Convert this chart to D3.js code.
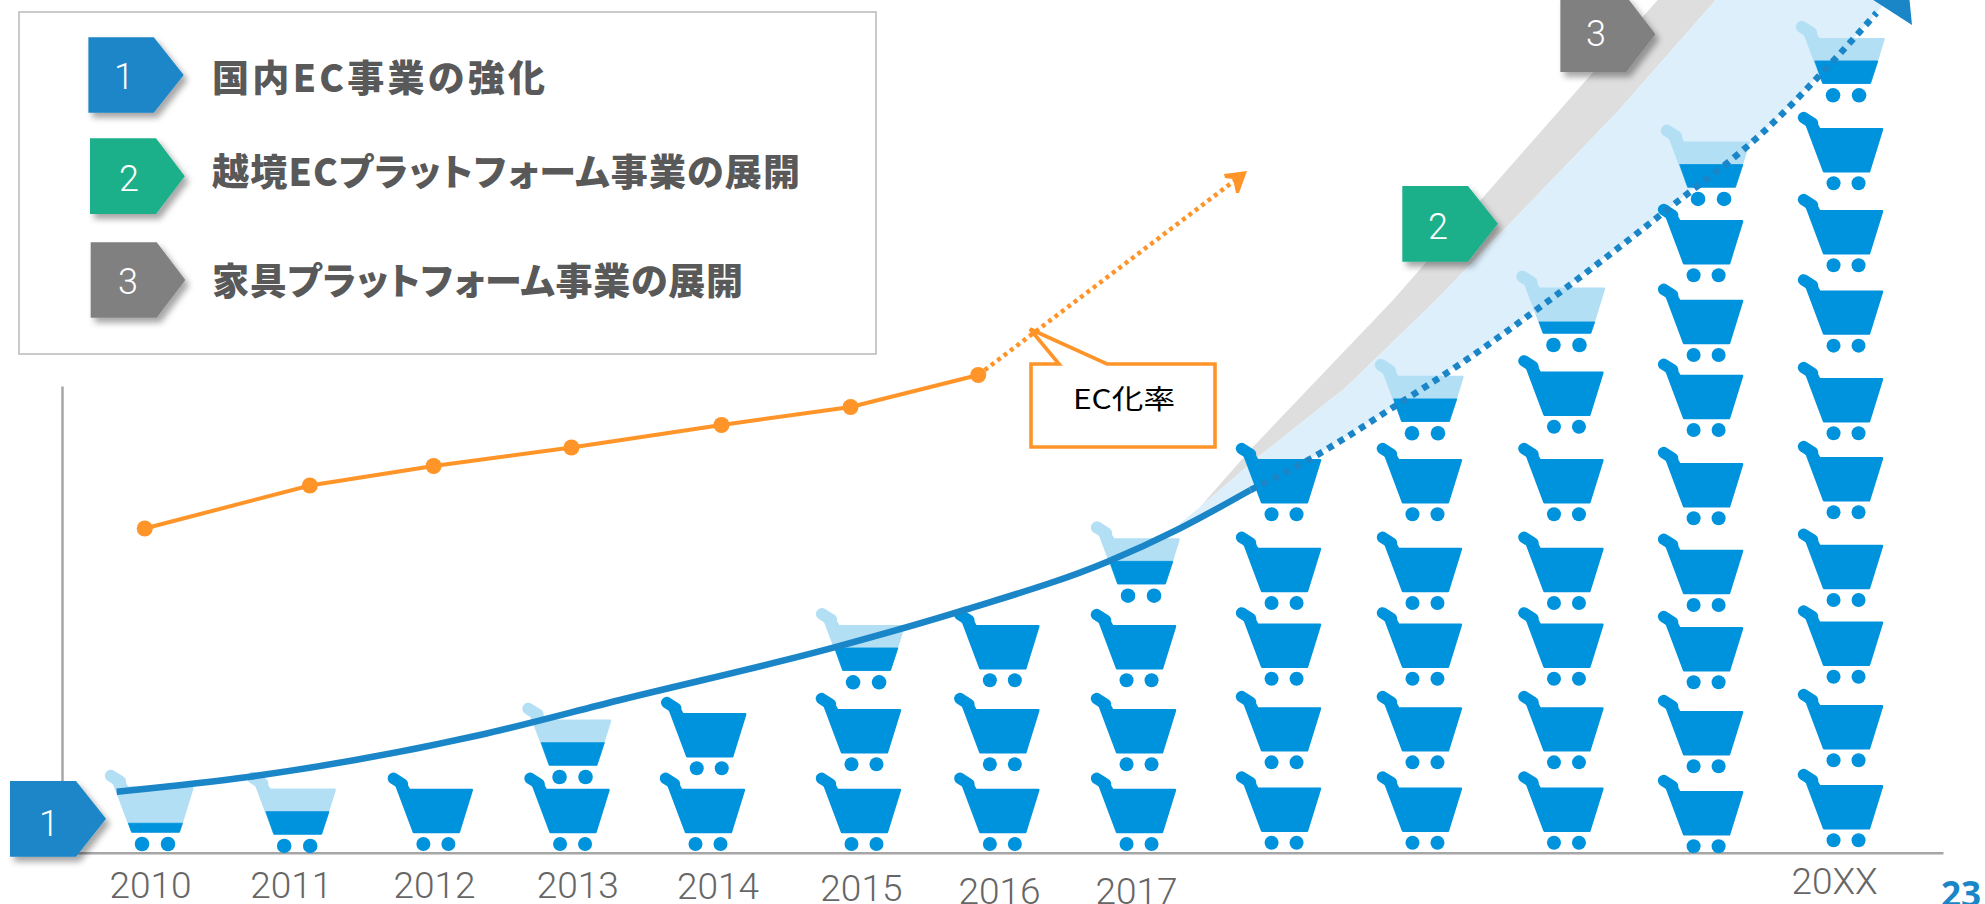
<!DOCTYPE html>
<html lang="ja">
<head>
<meta charset="utf-8">
<script src="https://cdn.jsdelivr.net/npm/d3@7"></script>
<style>
html,body{margin:0;padding:0;background:#fff;overflow:hidden}
svg{display:block}
.jp{font-family:"Noto Sans CJK JP","Noto Sans",sans-serif;font-feature-settings:"palt"}
.thin{font-family:Roboto,"Open Sans",sans-serif;font-weight:300}
</style>
</head>
<body>
<svg id="chart" width="1985" height="904"></svg>
<script>
// ---- data ----
const yearLabels = ["2010","2011","2012","2013","2014","2015","2016","2017","20XX"];
const yearLabelPos = [-0.035,0.963,1.98,2.997,3.992,5.009,5.989,6.962,11.915];
const columnPos = [0,1.009,1.993,2.963,3.924,5.031,6.013,6.983,8.012,9.012,10.016,11.007,12];
const topCartPos = [0,1.009,1.993,2.963,3.933,5.046,6.013,6.997,8.012,9.012,10.016,11.042,12];
const topCartFill = [0.2,0.5,1,0.5,1,0.5,1,0.5,1,0.5,0.25,0.5,0.5];
const cartLevels = [
  [0],
  [-0.024],
  [0],
  [0,0.817],
  [0,0.923],
  [0,0.972,1.972],
  [0,0.972,1.996],
  [0,0.972,1.996,3.028],
  [0.016,0.996,2.016,2.939,4.021],
  [0.016,0.996,2.016,2.939,4.021,5.009],
  [0.016,0.996,2.016,2.939,4.021,5.089,6.085],
  [-0.028,0.948,1.972,2.915,3.972,5.049,5.963,6.935,7.866],
  [0.045,1.021,2.04,2.976,4.045,5.009,6.077,7.057,8.057,9.13]
];
const growthSolid = [[-0.272,0.638],[0.674,0.821],[2.306,1.329],[3.3,1.756],[4.84,2.406],[5.746,2.854],[6.759,3.443],[7.274,3.85],[7.774,4.317]];
const growthDotted = [[7.774,4.317],[8.225,4.723],[8.793,5.333],[9.304,5.902],[9.878,6.61],[10.758,7.772],[11.39,8.646],[11.915,9.561],[12.216,10.134]];
const growthArrow = [[12.192,10.293],[12.468,9.988],[12.447,10.354]];
const wedgeBlueTop = [[7.217,3.829],[7.416,4.11],[7.818,4.707],[8.445,5.561],[9.091,6.634],[10.378,8.93],[11.075,10.293],[11.176,10.537]];
const wedgeGreyTop = [[7.416,4.11],[7.771,4.805],[8.786,6.634],[9.428,7.894],[10.188,9.378],[10.664,10.293],[10.786,10.537]];
const ecRatePos = [-0.073,1.099,1.977,2.955,4.02,4.936,5.842];
const ecRate = [3.43,4.29,4.68,5.05,5.5,5.86,6.5];
const ecRateForecast = [[5.842,6.5],[7.749,10.58]];
const legendNames = ["国内EC事業の強化","越境ECプラットフォーム事業の展開","家具プラットフォーム事業の展開"];
const badgeColors = ["#1a86c8","#1eb08a","#808080"];

// ---- scales ----
const svg = d3.select("#chart");
const x = d3.scaleLinear().domain([-0.66,12.688]).range([62,1943]);
const y = d3.scaleLinear().domain([-0.106,5.585]).range([852.7,386]);
const yRate = d3.scaleLinear().domain([0,14]).range([700,0]);
const pt = d => [x(d[0]),y(d[1])];

const defs = svg.append("defs");
const shadow = defs.append("filter").attr("id","sh").attr("x","-20%").attr("y","-20%").attr("width","150%").attr("height","150%");
shadow.append("feDropShadow").attr("dx",4).attr("dy",5).attr("stdDeviation",3).attr("flood-color","#000").attr("flood-opacity",0.35);

// ---- wedges ----
const lin = d3.line();
const curveGen = d3.line().curve(d3.curveMonotoneX);
const wedgeLower = growthSolid.filter(d=>d[0]>7.2).concat(growthDotted.slice(1)).concat([[12.6,10.9]]);
svg.append("path").attr("fill","#dedede")
   .attr("d",lin(wedgeGreyTop.concat(wedgeBlueTop.slice(1).reverse()).map(pt)));
svg.append("path").attr("fill","#ddeffb")
   .attr("d",lin(wedgeBlueTop.concat(wedgeLower.slice().reverse()).map(pt)));

// ---- axes ----
const axisX = d3.axisBottom(x).tickValues(yearLabelPos).tickSize(0)
  .tickFormat((d,i)=>yearLabels[i]);
const gx = svg.append("g").attr("transform",`translate(0,${y(-0.106)})`).call(axisX);
gx.select(".domain").attr("stroke","#a6a6a6").attr("stroke-width",2.5);
const labelBaselineDrop = [45.3,45.3,45.3,45.6,46.3,48.3,51.3,51.3,41.6];
gx.selectAll("text").attr("class","thin").attr("font-size",37).attr("fill","#666")
  .attr("dy",0).attr("y",(d,i)=>labelBaselineDrop[i]);
const gy = svg.append("g").attr("transform",`translate(${x(-0.66)},0)`)
  .call(d3.axisLeft(y).tickValues([]).tickSize(0));
gy.select(".domain").attr("stroke","#a6a6a6").attr("stroke-width",2.5);

// ---- carts ----
const DARK="#0093dd", LIGHT="#b3dff5";
const bodyPath = "M-22,-12 L-40,-60 L-31,-62 L-26.5,-54 L36,-54 L23,-12 Z";
function cart(g,cx,wy,fill){
  const s = fill<1 ? 1.04 : 1;
  const c = g.append("g").attr("transform",`translate(${cx},${wy}) scale(${s})`);
  const col = fill<1 ? LIGHT : DARK;
  c.append("path").attr("d",bodyPath).attr("fill",col).attr("stroke",col).attr("stroke-width",2.4).attr("stroke-linejoin","round");
  c.append("line").attr("x1",-42.5).attr("y1",-65.7).attr("x2",-33.5).attr("y2",-60).attr("stroke",col).attr("stroke-width",11.5).attr("stroke-linecap","round");
  if(fill<1){
    const h = fill*43.4;
    const t = -11.3-h;
    const lx = -22.6-h*0.346, rx = 23.6+h*0.322;
    c.append("path").attr("fill",DARK).attr("stroke",DARK).attr("stroke-width",0.8).attr("stroke-linejoin","round")
     .attr("d",`M${lx},${t} L${rx},${t} L23.4,-11.3 L-22.4,-11.3 Z`);
  }
  [-12.5,12.5].forEach(w=>c.append("circle").attr("cx",w).attr("cy",0).attr("r",7).attr("fill",DARK));
}
const gc = svg.append("g");
cartLevels.forEach((col,i)=>{
  col.forEach((lv,j)=>{
    const top = j===col.length-1;
    cart(gc, x(top?topCartPos[i]:columnPos[i]), y(lv), top?topCartFill[i]:1);
  });
});

// ---- growth curve ----
svg.append("path").attr("fill","none").attr("stroke","#1a86c8").attr("stroke-width",6.5)
   .attr("d",curveGen(growthSolid.map(pt)));
svg.append("path").attr("fill","none").attr("stroke","#1a86c8").attr("stroke-width",6.5).attr("stroke-dasharray","6.5 6")
   .attr("d",curveGen(growthDotted.map(pt)));
svg.append("path").attr("fill","#1a86c8").attr("d",lin(growthArrow.map(pt))+"Z");

// ---- EC rate line ----
const ecPts = ecRatePos.map((p,i)=>[x(p),yRate(ecRate[i])]);
const fcPts = ecRateForecast.map(d=>[x(d[0]),yRate(d[1])]);
svg.append("path").attr("fill","none").attr("stroke","#ff9428").attr("stroke-width",4.5).attr("stroke-dasharray","4 4")
   .attr("d",lin([fcPts[0],[fcPts[1][0]-5,fcPts[1][1]+4]]));
const tip = fcPts[1];
svg.append("path").attr("fill","#ff9428")
   .attr("d",`M${tip[0]},${tip[1]} L${tip[0]-23},${tip[1]+3} L${tip[0]-22},${tip[1]+7} L${tip[0]-14},${tip[1]+8} L${tip[0]-11},${tip[1]+22} L${tip[0]-8},${tip[1]+22} Z`);
svg.append("path").attr("fill","none").attr("stroke","#ff9428").attr("stroke-width",4).attr("d",lin(ecPts));
svg.append("g").selectAll("circle").data(ecPts).join("circle")
   .attr("cx",d=>d[0]).attr("cy",d=>d[1]).attr("r",8).attr("fill","#ff9428");

// ---- callout ----
svg.append("path").attr("fill","#fff").attr("stroke","#ff9428").attr("stroke-width",3.6).attr("stroke-linejoin","miter")
   .attr("d","M1031,364 L1059,364 L1030,329 L1107,364 L1215,364 L1215,447 L1031,447 Z");
svg.append("text").attr("class","jp").attr("x",1124).attr("y",409).attr("text-anchor","middle").attr("font-weight",400)
   .attr("font-size",27).attr("fill","#000").attr("textLength",102).attr("lengthAdjust","spacingAndGlyphs").text("EC化率");

// ---- legend ----
svg.append("rect").attr("x",19).attr("y",12).attr("width",857).attr("height",342).attr("fill","#fff").attr("stroke","#bdbdbd").attr("stroke-width",1.6);

function badge(x0,x1,xs,y0,y1,color,label,lx,ly){
  const g = svg.append("g");
  g.append("path").attr("fill",color).attr("filter","url(#sh)")
   .attr("d",`M${x0},${y0} L${xs},${y0} L${x1},${(y0+y1)/2} L${xs},${y1} L${x0},${y1} Z`);
  g.append("text").attr("class","thin").attr("x",lx).attr("y",ly).attr("text-anchor","middle")
   .attr("dominant-baseline","central").attr("font-size",36).attr("fill","#fff").text(label);
}
const legendBadges = [[88.4,183.7,153.8,37.3,112.7,124,77],[90,184.8,156,138.3,214,129,179],[90.7,185.4,156.7,242.3,317.7,128,282]];
legendBadges.forEach((b,i)=>badge(b[0],b[1],b[2],b[3],b[4],badgeColors[i],String(i+1),b[5],b[6]));
const legendY = [92,186,295], legendW = [333,588,531];
legendNames.forEach((t,i)=>{
  svg.append("text").attr("class","jp").attr("x",212).attr("y",legendY[i])
   .attr("font-size",37).attr("font-weight",900).attr("fill","#595959")
   .attr("textLength",legendW[i]).attr("lengthAdjust","spacing").text(t);
});

// chart badges
badge(10,106,76,781,856.7,badgeColors[0],"1",49,824);
badge(1402.3,1497.9,1468,186,261.7,badgeColors[1],"2",1438,227);
badge(1560.4,1655.4,1626.4,-3.5,72,badgeColors[2],"3",1596,34);

// page number
svg.append("text").attr("x",1941).attr("y",907).attr("font-family","'Open Sans',sans-serif").attr("font-weight",700)
   .attr("font-size",35).attr("fill","#1a86c8").text("23");
</script>
</body>
</html>
